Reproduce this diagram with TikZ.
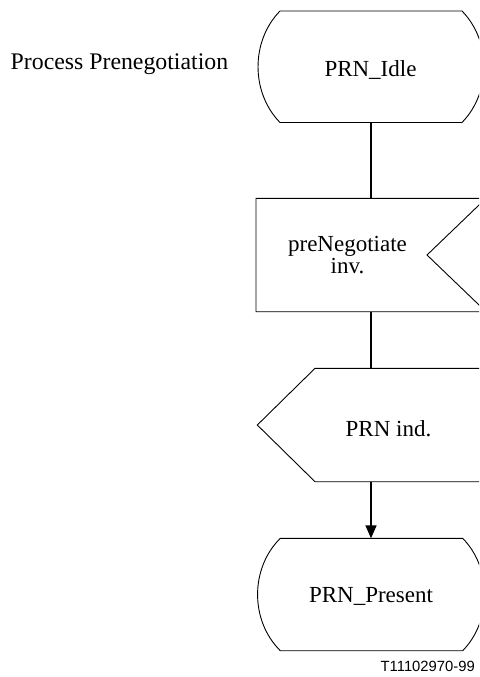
\documentclass[tikz,border=0pt]{standalone}
\usepackage{fontspec}
\setmainfont{Liberation Serif}
\newfontfamily\labelsans{Liberation Sans}
\usetikzlibrary{arrows.meta,calc}
\tikzset{
  box/.style={shape=rectangle, draw=none, inner sep=0pt, outer sep=0pt},
  txt/.style={inner sep=0pt, outer sep=0pt, font=\fontsize{23}{21.6}\selectfont},
  outline/.style={line width=0.9pt, line join=miter},
  conn/.style={line width=1.6pt},
  arr/.style={conn, -{Triangle[length=13pt,width=11pt]}}
}
\begin{document}
\begin{tikzpicture}[x=1pt,y=-1pt]
\useasboundingbox (0,0) rectangle (479,677);
\clip (0,0) rectangle (479,677);
% node boxes
\node[box, minimum width=226pt, minimum height=111.5pt] (idle) at (371,66.75) {};
\node[box, minimum width=230pt, minimum height=113.4pt] (inv) at (371,255) {};
\node[box, minimum width=227.4pt, minimum height=113.4pt] (ind) at (371,425) {};
\node[box, minimum width=227.4pt, minimum height=112.4pt] (present) at (371,594.5) {};
% outlines
\draw[outline] ([xshift=22pt]idle.north west) -- ([xshift=-22pt]idle.north east)
  .. controls ([xshift=7.3pt,yshift=-30pt]idle.north east) and ([xshift=7.3pt,yshift=30pt]idle.south east) .. ([xshift=-22pt]idle.south east)
  -- ([xshift=22pt]idle.south west)
  .. controls ([xshift=-7.3pt,yshift=30pt]idle.south west) and ([xshift=-7.3pt,yshift=-30pt]idle.north west) .. cycle;
\draw[outline] (inv.north west) -- (inv.north east) -- ([xshift=-59pt]inv.east) -- (inv.south east) -- (inv.south west) -- cycle;
\draw[outline] ([xshift=57.7pt]ind.north west) -- (ind.north east) -- (ind.south east) -- ([xshift=57.7pt]ind.south west) -- (ind.west) -- cycle;
\draw[outline] ([xshift=23pt]present.north west) -- ([xshift=-22pt]present.north east)
  .. controls ([xshift=7.3pt,yshift=-30pt]present.north east) and ([xshift=7.3pt,yshift=30pt]present.south east) .. ([xshift=-22pt]present.south east)
  -- ([xshift=23pt]present.south west)
  .. controls ([xshift=-7.3pt,yshift=30pt]present.south west) and ([xshift=-7.3pt,yshift=-30pt]present.north west) .. cycle;
% texts
\node[txt, anchor=base] (idletxt) at (370.5,76.7) {PRN\_Idle};
\node[txt, anchor=base, align=center] (invtxt) at (347.5,273.3) {preNegotiate\\inv.};
\node[txt, anchor=base] (indtxt) at (388.5,436.5) {PRN ind.};
\node[txt, anchor=base] (presenttxt) at (371,602.5) {PRN\_Present};
\node[inner sep=0pt, anchor=base west, font=\fontsize{23.8}{26}\selectfont] (title) at (10.5,70) {Process Prenegotiation};
\node[inner sep=0pt, anchor=base west, font=\labelsans\fontsize{14.8}{18}\selectfont] (fig) at (380.5,671) {T11102970-99};
% connectors
\draw[conn] (idle.south) -- (inv.north);
\draw[conn] (inv.south) -- (ind.north);
\draw[arr] (ind.south) -- (present.north);
\end{tikzpicture}
\end{document}
